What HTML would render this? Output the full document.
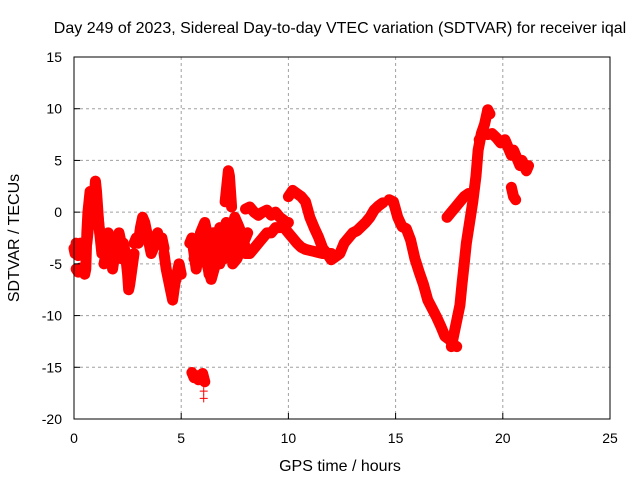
<!DOCTYPE html>
<html><head><meta charset="utf-8"><style>
body{margin:0;background:#fff;}
svg text{font-family:"Liberation Sans",sans-serif;font-size:14px;fill:#000;}
svg text.big{font-size:16px;}
</style></head><body>
<svg id="chart" width="640" height="480" viewBox="0 0 640 480" xmlns="http://www.w3.org/2000/svg">
<rect width="640" height="480" fill="#fff"/>
<g id="grid"></g>
<g id="marks"></g>
<rect x="74" y="57" width="536" height="362" fill="none" stroke="#000" stroke-width="1"/>
<g id="ticks"></g>
<text class="big" x="340" y="33" text-anchor="middle">Day 249 of 2023, Sidereal Day-to-day VTEC variation (SDTVAR) for receiver iqal</text>
<text class="big" x="340" y="471" text-anchor="middle">GPS time / hours</text>
<text class="big" x="0" y="0" text-anchor="middle" transform="translate(19,238) rotate(-90)">SDTVAR / TECUs</text>
</svg>
<script>
const xTicks=[0,5,10,15,20,25];
const yTicks=[15,10,5,0,-5,-10,-15,-20];
// tracks: times (hours) and SDTVAR values (TECU)
const trackTimes=[
[0,0.05,0.1,0.15,0.2,0.25,0.3,0.35,0.4,0.45],
[0.1,0.2,0.3,0.4],
[0.5,0.55,0.6,0.65,0.7,0.75,0.8,0.85,0.9,0.95,1.0,1.05,1.1,1.15,1.2,1.3,1.4,1.5],
[0.6,0.7,0.8,0.9,1.0,1.1,1.2,1.3],
[1.5,1.6,1.7,1.8,1.9,2.0,2.1,2.2,2.3,2.4],
[1.4,1.5,1.6,1.7,1.8,1.9,2.0,2.1,2.2],
[2.4,2.5,2.55,2.6,2.7,2.8],
[2.8,2.9,3.0,3.1,3.2,3.3,3.4,3.5,3.6,3.7,3.8,3.9,4.0,4.1,4.2],
[4.2,4.3,4.4,4.5,4.6,4.7,4.8,4.9,5.0],
[5.4,5.5,5.6,5.7,5.8,5.9,6.0,6.1,6.2,6.3,6.4,6.5,6.6,6.7,6.8,6.9,7.0],
[5.5,5.6,5.7,5.8,5.9,6.0,6.1],
[6.05,6.05],
[5.6,5.8,6.0,6.2,6.4,6.6,6.8,7.0,7.2,7.4,7.6,7.8,8.0],
[5.9,6.1,6.3,6.5,6.7,6.9,7.1,7.3,7.5,7.7,7.9,8.1],
[6.2,6.4,6.6,6.8,7.0,7.2,7.4,7.6,7.8],
[7.05,7.1,7.15,7.2,7.25,7.3,7.35],
[7.4,7.6,7.8,8.0,8.2,8.4,8.6,8.8,9.0,9.2,9.4,9.6,9.8,10.0],
[8.0,8.2,8.4,8.6,8.8,9.0,9.2,9.4,9.6,9.8],
[10.0,10.2,10.4,10.6,10.8,11.0,11.2,11.4,11.6,11.8,12.0,12.2,12.4,12.6,12.8,13.0,13.2,13.4,13.6,13.8,14.0,14.2,14.4],
[9.8,10.0,10.2,10.4,10.6,10.8,11.0,11.2,11.4,11.6,11.8,12.0],
[14.7,14.9,15.1,15.3,15.5,15.7,15.9,16.1,16.3,16.5,16.7,16.9,17.1,17.3,17.5,17.7,17.85],
[17.6,17.8,18.0,18.1,18.2,18.3,18.45,18.6,18.75,18.85,19.0,19.15,19.3,19.4],
[17.4,17.6,17.8,18.0,18.2,18.4],
[18.9,19.1,19.3,19.5,19.7,19.9],
[20.1,20.2,20.3,20.4,20.5,20.6,20.7,20.8,20.9,21.0,21.1,21.2],
[20.4,20.5,20.6]
];
const trackValues=[
[-3.5,-4,-3,-3.8,-4.2,-3.5,-3,-4,-3.6,-3.2],
[-5.5,-5.8,-5.4,-5.6],
[-6,-5.5,-2,0,1,2,1.5,0,-1,1.5,3,2,0.5,-1,-2,-3,-4,-3],
[-3,-1,0,-1,1,0,-2,-4],
[-2.5,-3.5,-5,-4,-3,-2.5,-3.5,-4.5,-3,-4],
[-5,-4,-2,-3.5,-5.5,-4,-3,-2,-3],
[-4,-6,-7.5,-7,-5.5,-4],
[-3,-2.5,-3,-1.5,-0.5,-1,-2,-3,-4,-3.5,-2.5,-2,-3,-2.5,-3.5],
[-4,-5.5,-6.5,-7.5,-8.5,-7,-6,-5,-6],
[-3,-2.5,-4,-5.5,-4,-3,-2,-3.5,-4.5,-6,-4,-3,-2,-3.5,-5,-4,-3],
[-15.5,-16,-15.8,-16.2,-16,-15.6,-16.4],
[-17.3,-18],
[-4.5,-3,-2,-4,-5,-3,-1.5,-2.5,-4,-3,-1,-2,-3.5],
[-2,-1,-3,-2,-4,-2.5,-1,-2,-0.5,-1.5,-3,-2],
[-5,-6.5,-5,-3,-4.5,-3.5,-2.5,-4,-3],
[1,2,3,4,3.5,2,0.5],
[-5,-4.5,-3.5,-4,-4,-3.5,-3,-2.5,-2,-2,-1.5,-1.5,-1.4,-1],
[0.3,0.5,0,-0.3,0,0.2,-0.3,0,-0.5,-0.8],
[1.5,2.1,1.8,1.5,1,-0.5,-1.5,-2.4,-3.5,-4,-4.6,-4.3,-4,-3,-2.5,-2,-1.8,-1.4,-1,-0.5,0.2,0.6,0.9],
[-1.5,-2,-2.5,-3,-3.4,-3.6,-3.7,-3.8,-3.9,-4,-4,-4],
[1.2,1,-0.5,-1.4,-1.6,-2.7,-4.5,-5.8,-7,-8.5,-9.3,-10.1,-11,-12,-12.3,-12.8,-13],
[-13,-11,-9,-6.9,-5,-3,-1,1,3.5,6,7.6,8.5,9.9,9.5],
[-0.5,0,0.5,1,1.5,1.8],
[7,7.6,7.5,7.6,7.2,6.7],
[7,6.5,6,5.5,6,5.5,5,4.5,5,4.5,4,4.5],
[2.4,1.5,1.2]
];
const x=t=>74+t*(536/25);
const y=v=>57+(15-v)*(362/35);
const NS="http://www.w3.org/2000/svg";
const grid=document.getElementById('grid'),ticks=document.getElementById('ticks'),marks=document.getElementById('marks');
function mk(tag,attrs,parent){const e=document.createElementNS(NS,tag);for(const k in attrs)e.setAttribute(k,attrs[k]);parent.appendChild(e);return e;}
xTicks.forEach(t=>{
 if(t>0&&t<25){const g=mk('line',{x1:x(t),x2:x(t),y1:57,y2:419,stroke:'#a0a0a0','stroke-dasharray':'3,3'},grid);
 }
 const tk=mk('line',{x1:x(t),x2:x(t),y1:419,y2:413,stroke:'#000'},ticks);
 
 const l=mk('text',{x:x(t),y:443,'text-anchor':'middle'},ticks);l.textContent=t;
 
});
yTicks.forEach(v=>{
 if(v<15&&v>-20){const g=mk('line',{x1:74,x2:610,y1:y(v),y2:y(v),stroke:'#a0a0a0','stroke-dasharray':'3,3'},grid);
 }
 const tk=mk('line',{x1:74,x2:80,y1:y(v),y2:y(v),stroke:'#000'},ticks);
 
 const l=mk('text',{x:62,y:y(v)+5,'text-anchor':'end'},ticks);l.textContent=v;
 
});
trackTimes.forEach((ts,i)=>{
 const vs=trackValues[i];
 const g=mk('g',{},marks);
 
 const pts=ts.map((t,j)=>x(t)+','+y(vs[j])).join(' ');
 if(ts.length>2){const pl=mk('polyline',{points:pts,fill:'none',stroke:'#ff0000','stroke-width':11,'stroke-linejoin':'round','stroke-linecap':'round'},g);
 }
 ts.forEach((t,j)=>{
  const cx=x(t),cy=y(vs[j]);
  const p=mk('path',{d:`M${cx-4},${cy}H${cx+4}M${cx},${cy-4}V${cy+4}`,stroke:'#ff0000','stroke-width':1},g);
  
 });
});
</script>
</body></html>
